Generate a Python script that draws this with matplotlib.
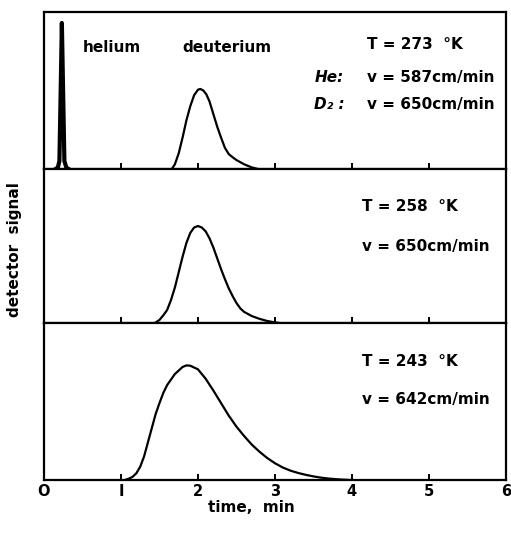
import matplotlib.pyplot as plt

plt.rcParams['font.family'] = ['DejaVu Sans']
plt.rcParams['font.weight'] = 'bold'

# curves (time in min, signal as panel fraction)
he_t = [0.15, 0.18, 0.20, 0.215, 0.232, 0.25, 0.265, 0.29, 0.32]
he_s = [0.0, 0.01, 0.05, 0.45, 0.93, 0.45, 0.05, 0.01, 0.0]

d273_t = [1.66, 1.70, 1.75, 1.80, 1.85, 1.90, 1.95, 2.00, 2.03, 2.07, 2.11,
          2.15, 2.20, 2.25, 2.30, 2.35, 2.40, 2.45, 2.50, 2.60, 2.70, 2.78]
d273_s = [0.0, 0.03, 0.10, 0.20, 0.31, 0.40, 0.47, 0.505, 0.51, 0.50, 0.475,
          0.43, 0.35, 0.27, 0.20, 0.135, 0.095, 0.075, 0.057, 0.03, 0.01, 0.0]

d258_t = [1.44, 1.50, 1.55, 1.60, 1.65, 1.70, 1.75, 1.80, 1.85, 1.90, 1.95,
          2.00, 2.05, 2.10, 2.15, 2.20, 2.25, 2.30, 2.35, 2.40, 2.45, 2.50,
          2.55, 2.60, 2.70, 2.80, 2.90, 3.00, 3.06]
d258_s = [0.0, 0.02, 0.05, 0.085, 0.15, 0.23, 0.33, 0.43, 0.52, 0.585, 0.62,
          0.63, 0.62, 0.595, 0.55, 0.49, 0.42, 0.35, 0.285, 0.225, 0.175, 0.13,
          0.095, 0.072, 0.045, 0.027, 0.013, 0.004, 0.0]

d243_t = [1.05, 1.10, 1.15, 1.20, 1.25, 1.30, 1.35, 1.40, 1.45, 1.50, 1.55,
          1.60, 1.70, 1.80, 1.85, 1.90, 2.00, 2.10, 2.20, 2.30, 2.40, 2.50,
          2.60, 2.70, 2.80, 2.90, 3.00, 3.10, 3.20, 3.30, 3.40, 3.50, 3.60,
          3.70, 3.80, 3.90, 4.00]
d243_s = [0.0, 0.008, 0.02, 0.043, 0.085, 0.15, 0.24, 0.33, 0.42, 0.49, 0.555,
          0.605, 0.675, 0.72, 0.73, 0.728, 0.705, 0.645, 0.57, 0.49, 0.41, 0.34,
          0.28, 0.225, 0.18, 0.14, 0.107, 0.08, 0.06, 0.045, 0.033, 0.023, 0.015,
          0.009, 0.005, 0.002, 0.0]

xticks = [0, 1, 2, 3, 4, 5, 6]
xticklabels = ['O', 'I', '2', '3', '4', '5', '6']

fig = plt.figure(figsize=(5.11, 5.34), dpi=100)
gs = fig.add_gridspec(3, 1, left=0.0861, right=0.99, top=0.9775,
                      bottom=0.1011, hspace=0, height_ratios=[157, 154, 157])
axes = [fig.add_subplot(gs[i]) for i in range(3)]

lw = 1.6
axes[0].plot(he_t, he_s, color='black', lw=3.0)
axes[0].plot(d273_t, d273_s, color='black', lw=lw)
axes[1].plot(d258_t, d258_s, color='black', lw=lw)
axes[2].plot(d243_t, d243_s, color='black', lw=lw)

for ax in axes:
    ax.set_xlim(0, 6)
    ax.set_ylim(0, 1)
    ax.set_yticks([])
    ax.set_xticks(xticks)
    ax.tick_params(axis='x', direction='in', length=4, width=1.4,
                   labelbottom=False)
    for s in ax.spines.values():
        s.set_linewidth(1.6)

axes[2].tick_params(axis='x', labelbottom=True, labelsize=10.5, pad=3)
axes[2].set_xticklabels(xticklabels)
axes[2].set_xlabel('time,  min', fontsize=11, fontweight='bold')
axes[2].xaxis.set_label_coords(0.45, -0.13)

fs = 11
ax = axes[0]
ax.text(0.505, 0.777, 'helium', fontsize=fs, va='center')
ax.text(1.80, 0.777, 'deuterium', fontsize=fs, va='center')
ax.text(4.20, 0.79, 'T = 273  °K', fontsize=fs, va='center')
ax.text(3.51, 0.585, 'He:', fontsize=fs, va='center', style='italic')
ax.text(4.20, 0.585, 'v = 587cm/min', fontsize=fs, va='center')
ax.text(3.51, 0.41, 'D₂ :', fontsize=fs, va='center', style='italic')
ax.text(4.20, 0.41, 'v = 650cm/min', fontsize=fs, va='center')

axes[1].text(4.13, 0.754, 'T = 258  °K', fontsize=fs, va='center')
axes[1].text(4.13, 0.50, 'v = 650cm/min', fontsize=fs, va='center')

axes[2].text(4.13, 0.754, 'T = 243  °K', fontsize=fs, va='center')
axes[2].text(4.13, 0.511, 'v = 642cm/min', fontsize=fs, va='center')

fig.text(15 / 511, 1 - 250 / 534, 'detector  signal', rotation=90,
         fontsize=11, ha='center', va='center')

fig.savefig('out.png', dpi=100)
